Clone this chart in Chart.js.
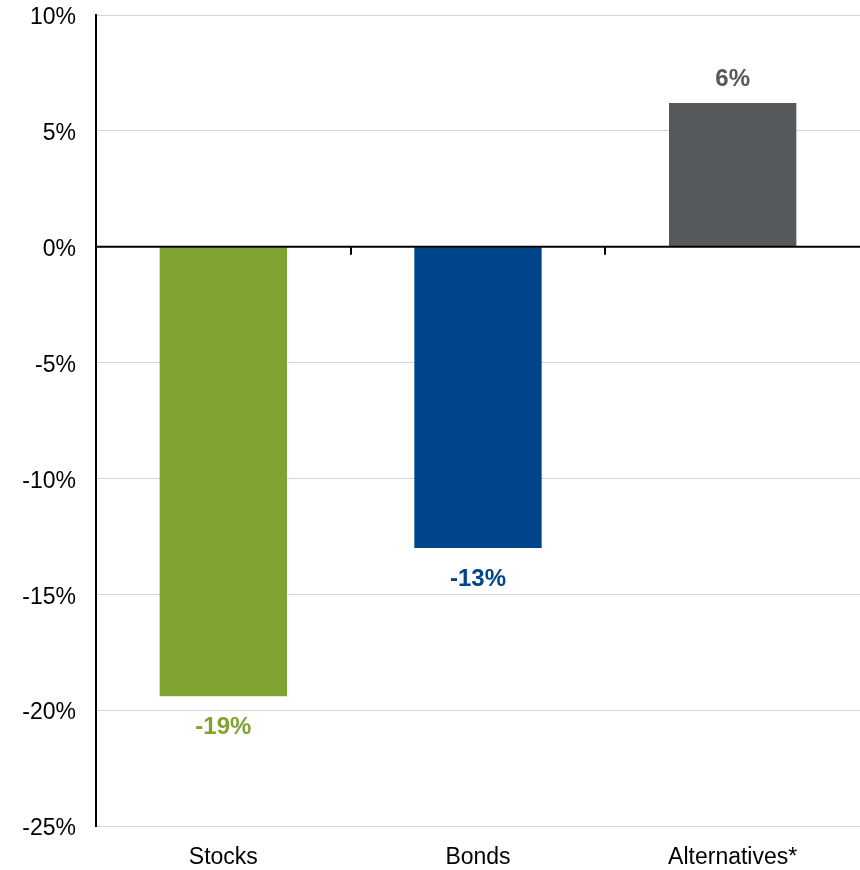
<!DOCTYPE html>
<html>
<head>
<meta charset="utf-8">
<script src="https://cdn.jsdelivr.net/npm/chart.js@4/dist/chart.umd.min.js"></script>
<style>
  html, body { margin: 0; padding: 0; background: #ffffff; }
  #wrap { width: 860px; height: 870px; }
</style>
</head>
<body>
<div id="wrap"><canvas id="c" width="860" height="870"></canvas></div>
<script>
const categories = ['Stocks', 'Bonds', 'Alternatives*'];
const returns = [-19.4, -13.0, 6.2];
const valueLabels = ['-19%', '-13%', '6%'];
const barColors = ['#7FA331', '#00458A', '#56595C'];
const yMin = -25;
const yMax = 10;
const yStep = 5;

const FONT = "'Liberation Sans', Arial, sans-serif";

const zeroLinePlugin = {
  id: 'zeroLine',
  afterDatasetsDraw(chart) {
    const { ctx, chartArea, scales } = chart;
    const ys = scales.y;
    const y0 = ys.getPixelForValue(0);
    ctx.save();
    ctx.strokeStyle = '#000000';
    ctx.lineWidth = 2;
    ctx.beginPath();
    ctx.moveTo(chartArea.left, y0);
    ctx.lineTo(chartArea.right, y0);
    ctx.stroke();
    const xs = scales.x;
    for (let i = 0; i < categories.length - 1; i++) {
      const bx = Math.round((xs.getPixelForValue(i) + xs.getPixelForValue(i + 1)) / 2);
      ctx.beginPath();
      ctx.moveTo(bx, y0);
      ctx.lineTo(bx, y0 + 8);
      ctx.stroke();
    }
    // y tick labels
    ctx.font = "23px " + FONT;
    ctx.fillStyle = '#000000';
    ctx.textAlign = 'right';
    ctx.textBaseline = 'middle';
    ys.ticks.forEach((t) => {
      ctx.fillText(t.value + '%', chartArea.left - 20, ys.getPixelForValue(t.value) + 3);
    });
    // value labels
    ctx.font = "bold 24px " + FONT;
    ctx.textAlign = 'center';
    const meta = chart.getDatasetMeta(0);
    meta.data.forEach((bar, i) => {
      const v = returns[i];
      ctx.fillStyle = barColors[i];
      const y = v >= 0 ? bar.y - 24 : bar.y + 31;
      ctx.fillText(valueLabels[i], bar.x, y);
    });
    ctx.restore();
  }
};

new Chart(document.getElementById('c'), {
  type: 'bar',
  data: {
    labels: categories,
    datasets: [{
      data: returns,
      backgroundColor: barColors,
      borderWidth: 0,
      barPercentage: 0.5,
      categoryPercentage: 1.0
    }]
  },
  options: {
    responsive: false,
    animation: false,
    devicePixelRatio: 1,
    layout: { padding: { top: 15, right: 0, bottom: 0, left: 0 } },
    plugins: {
      legend: { display: false },
      tooltip: { enabled: false },
      title: { display: false }
    },
    scales: {
      x: {
        position: 'bottom',
        grid: { display: false, drawTicks: false },
        border: { display: false },
        ticks: {
          color: '#000000',
          font: { family: FONT, size: 23 },
          padding: 18,
          maxRotation: 0
        },
        afterFit(scale) { scale.height = 44; scale.paddingLeft = 0; scale.paddingRight = 0; }
      },
      y: {
        min: yMin,
        max: yMax,
        grid: {
          color: '#D4D4D4',
          lineWidth: 1,
          drawTicks: false
        },
        border: { display: true, color: '#000000', width: 2 },
        ticks: {
          stepSize: yStep,
          color: 'rgba(0,0,0,0)',
          font: { family: FONT, size: 23 },
          padding: 20,
          callback: (v) => v + '%'
        },
        afterFit(scale) { scale.width = 96; scale.paddingTop = 0; scale.paddingBottom = 0; }
      }
    }
  },
  plugins: [zeroLinePlugin]
});
</script>
</body>
</html>
